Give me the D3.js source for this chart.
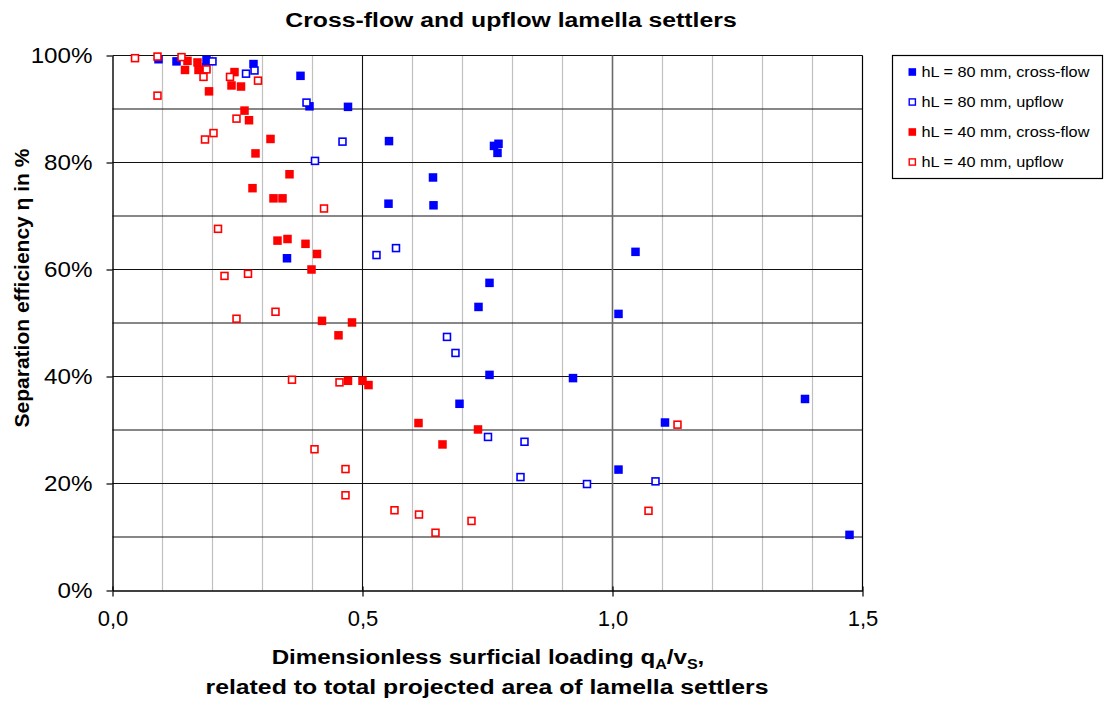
<!DOCTYPE html>
<html><head><meta charset="utf-8">
<script src="https://cdn.jsdelivr.net/npm/d3@7"></script>
<style>
body{margin:0;background:#fff;}
text{font-family:"Liberation Sans",Arial,sans-serif;}
</style></head>
<body>
<svg id="chart" width="1107" height="702"></svg>
<script>
// ---- data ----
const seriesNames = ["hL = 80 mm, cross-flow","hL = 80 mm, upflow","hL = 40 mm, cross-flow","hL = 40 mm, upflow"];
const seriesColors = ["#0000ff","#0000ff","#ff0000","#ff0000"];
const seriesFilled = [true,false,true,false];
const cross80 = [[0.092,99.3],[0.128,98.9],[0.188,99.2],[0.187,97.8],[0.282,98.4],[0.376,96.2],[0.394,90.5],[0.471,90.4],[0.553,84.0],[0.763,83.1],[0.772,83.5],[0.770,81.8],[0.641,77.2],[0.552,72.3],[0.642,72.0],[0.349,62.1],[0.754,57.5],[0.732,53.0],[1.046,63.3],[1.012,51.7],[0.754,40.3],[0.921,39.7],[0.694,34.9],[1.105,31.4],[1.385,35.8],[1.012,22.6],[1.474,10.4]];
const up80 = [[0.200,98.9],[0.284,97.2],[0.267,96.6],[0.388,91.2],[0.460,83.9],[0.405,80.3],[0.528,62.7],[0.567,64.0],[0.669,47.4],[0.686,44.4],[0.751,28.7],[0.824,27.8],[0.816,21.2],[0.949,19.9],[1.086,20.4]];
const cross40 = [[0.150,99.0],[0.145,97.3],[0.170,98.7],[0.172,97.3],[0.193,93.3],[0.244,96.9],[0.238,94.4],[0.257,94.2],[0.264,89.7],[0.273,87.9],[0.316,84.4],[0.286,81.7],[0.354,77.8],[0.280,75.2],[0.322,73.3],[0.340,73.3],[0.330,65.4],[0.350,65.7],[0.386,64.8],[0.409,62.9],[0.398,60.0],[0.419,50.4],[0.479,50.1],[0.452,47.7],[0.471,39.2],[0.500,39.2],[0.512,38.4],[0.612,31.3],[0.731,30.1],[0.660,27.3]];
const up40 = [[0.045,99.5],[0.090,99.8],[0.138,99.7],[0.188,97.4],[0.182,96.0],[0.090,92.5],[0.235,96.0],[0.291,95.3],[0.248,88.2],[0.202,85.5],[0.185,84.3],[0.211,67.6],[0.224,58.8],[0.271,59.2],[0.326,52.1],[0.248,50.8],[0.423,71.4],[0.359,39.4],[0.454,38.9],[0.404,26.4],[0.466,22.7],[0.466,17.8],[0.564,15.0],[0.613,14.2],[0.718,13.0],[0.646,10.8],[1.130,31.0],[1.072,14.9]];
const allSeries = [cross80, up80, cross40, up40];
const xTickValues = [0, 0.5, 1.0, 1.5];
const yTickValues = [0, 20, 40, 60, 80, 100];
const xGridValues = [0.1,0.2,0.3,0.4,0.6,0.7,0.8,0.9,1.1,1.2,1.3,1.4];
const xMajorGrid = [0.5, 1.0];
const yGridValues = [10,20,30,40,50,60,70,80,90,100];
const titleText = "Cross-flow and upflow lamella settlers";
const yTitleText = "Separation efficiency η in %";

// ---- drawing ----
const svg = d3.select("#chart");
const x = d3.scaleLinear().domain([0,1.5]).range([112.5,862.5]);
const y = d3.scaleLinear().domain([0,100]).range([590.5,55.5]);

function stretch(sel, sx, cx){
  sel.attr("transform",`translate(${cx},0) scale(${sx},1) translate(${-cx},0)`);
}

const g = svg.append("g");
g.selectAll(".vg").data(xGridValues).join("line")
  .attr("x1",d=>x(d)).attr("x2",d=>x(d)).attr("y1",y(0)).attr("y2",y(100))
  .attr("stroke","#c0c0c0").attr("stroke-width",1.2);
g.selectAll(".hg").data(yGridValues).join("line")
  .attr("x1",x(0)).attr("x2",x(1.5)).attr("y1",d=>y(d)).attr("y2",d=>y(d))
  .attr("stroke","#111").attr("stroke-width",1.1);
g.selectAll(".vmg").data(xMajorGrid).join("line")
  .attr("x1",d=>x(d)).attr("x2",d=>x(d)).attr("y1",y(0)).attr("y2",y(100))
  .attr("stroke",(d,i)=>i===0?"#111":"#6a6a6a").attr("stroke-width",(d,i)=>i===0?1.1:1.6);
g.append("line").attr("x1",x(1.5)).attr("x2",x(1.5)).attr("y1",y(0)).attr("y2",y(100)).attr("stroke","#000").attr("stroke-width",1.2);

// axes
const xAxis = d3.axisBottom(x).tickValues(xTickValues).tickSize(6).tickSizeOuter(0)
  .tickFormat(d=>d.toFixed(1).replace(".",","));
const xa = svg.append("g").attr("transform",`translate(0,${y(0)})`).call(xAxis);
xa.select(".domain").attr("stroke","#000").attr("stroke-width",1.4);
xa.selectAll(".tick line").attr("stroke","#000").attr("y1",-4).attr("stroke-width",1.2);
xa.selectAll(".tick text").attr("font-size",22).attr("fill","#000").attr("y",12).attr("dy","1.05em").style("font-family","'Liberation Sans',Arial,sans-serif");

const yAxis = d3.axisLeft(y).tickValues(yTickValues).tickSize(6).tickSizeOuter(0)
  .tickFormat(d=>d+"%");
const ya = svg.append("g").attr("transform",`translate(${x(0)},0)`).call(yAxis);
ya.select(".domain").attr("stroke","#000").attr("stroke-width",1.4);
ya.selectAll(".tick line").attr("stroke","#000").attr("stroke-width",1.2);
ya.selectAll(".tick text").attr("font-size",22).attr("fill","#000").attr("x",-20).style("font-family","'Liberation Sans',Arial,sans-serif")
  .each(function(){ stretch(d3.select(this), 1.1, -20); });

// points
const size = 8.5;
allSeries.forEach((data,si)=>{
  const filled = seriesFilled[si];
  const col = seriesColors[si];
  svg.append("g").selectAll("rect").data(data).join("rect")
    .attr("x",d=>x(d[0]) - (filled?size/2:(size-1.6)/2))
    .attr("y",d=>y(d[1]) - (filled?size/2:(size-1.6)/2))
    .attr("width",filled?size:size-1.6).attr("height",filled?size:size-1.6)
    .attr("fill",filled?col:"#fff")
    .attr("stroke",filled?"none":col).attr("stroke-width",filled?0:1.6);
});

// title
const tt = svg.append("text").attr("x",511).attr("y",27).attr("text-anchor","middle")
  .attr("font-size",21).attr("font-weight","bold").text(titleText);
stretch(tt, 1.18, 511);

// y title
svg.append("text").attr("transform","translate(29,288) rotate(-90)").attr("text-anchor","middle")
  .attr("font-size",21).attr("font-weight","bold").text(yTitleText);

// x title
const xt = svg.append("text").attr("x",488).attr("y",664).attr("text-anchor","middle")
  .attr("font-size",21).attr("font-weight","bold");
xt.append("tspan").text("Dimensionless surficial loading q");
xt.append("tspan").attr("font-size",14).attr("dy",5).text("A");
xt.append("tspan").attr("dy",-5).text("/v");
xt.append("tspan").attr("font-size",14).attr("dy",5).text("S");
xt.append("tspan").attr("dy",-5).text(",");
stretch(xt, 1.15, 488);
const xt2 = svg.append("text").attr("x",487).attr("y",694).attr("text-anchor","middle")
  .attr("font-size",21).attr("font-weight","bold").text("related to total projected area of lamella settlers");
stretch(xt2, 1.18, 487);

// legend
const lg = svg.append("g");
lg.append("rect").attr("x",892.5).attr("y",55.5).attr("width",210).attr("height",123)
  .attr("fill","#fff").attr("stroke","#000").attr("stroke-width",1.2);
const rowY = [72,102,132,162];
seriesNames.forEach((nm,i)=>{
  const f = seriesFilled[i];
  lg.append("rect").attr("x",f?908.5:909.2).attr("y",rowY[i]-(f?3.8:3.1))
    .attr("width",f?7.6:6.2).attr("height",f?7.6:6.2)
    .attr("fill",f?seriesColors[i]:"#fff").attr("stroke",f?"none":seriesColors[i]).attr("stroke-width",1.4);
  const t = lg.append("text").attr("x",921.5).attr("y",rowY[i]+5.5).attr("font-size",15.5).text(nm);
  stretch(t, 1.05, 921.5);
});
</script>
</body></html>
